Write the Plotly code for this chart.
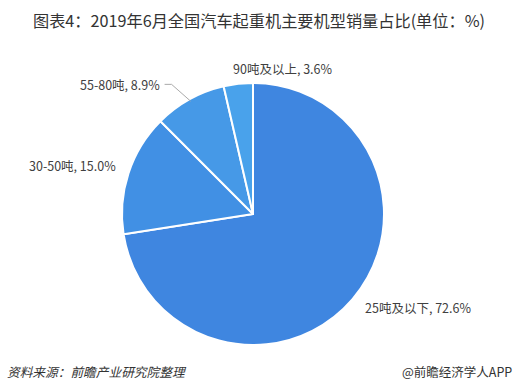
import math
import plotly.graph_objects as go

labels = ["25吨及以下", "30-50吨", "55-80吨", "90吨及以上"]
values = [72.6, 15.0, 8.9, 3.6]
colors = ["#3f86e0", "#4190e4", "#4699e7", "#49a2eb"]

W, H = 517, 392
cx, cy, R = 253, 214, 131
FONT = "Noto Sans CJK SC, Microsoft YaHei, sans-serif"

fig = go.Figure(go.Pie(
    labels=labels, values=values, sort=False, direction="clockwise", rotation=0,
    marker=dict(colors=colors, line=dict(color="white", width=2)),
    textinfo="none", hoverinfo="label+value", showlegend=False,
    domain=dict(x=[(cx - R) / W, (cx + R) / W], y=[(H - cy - R) / H, (H - cy + R) / H]),
))

# label placement offsets (px) relative to slice edge midpoint, and anchors
offsets = [(10, 8, "left"), (-10, -8, "right"), (-28, -15, "right"), (45, -15, "center")]
total = sum(values)
cum = 0
for lab, v, (dx, dy, anc) in zip(labels, values, offsets):
    mid = (cum + v / 2) / total * 2 * math.pi
    cum += v
    ex = cx + R * math.sin(mid)
    ey = cy - R * math.cos(mid)
    px, py = ex + dx, ey + dy
    fig.add_annotation(x=px / W, y=1 - py / H, xref="paper", yref="paper",
                       text=f"{lab}, {v:.1f}%", showarrow=False, xanchor=anc, yanchor="middle",
                       font=dict(size=12.5, color="#404040", family=FONT))
    if lab == "55-80吨":
        ex2 = cx + (R - 2) * math.sin(mid)
        ey2 = cy - (R - 2) * math.cos(mid)
        fig.add_shape(type="path", xref="paper", yref="paper",
                      path=f"M {(px+3)/W} {1-py/H} L {(px+10)/W} {1-py/H} L {ex2/W} {1-ey2/H}",
                      line=dict(color="#aaaaaa", width=1))

fig.add_annotation(x=31 / W, y=1 - 20 / H, xref="paper", yref="paper", xanchor="left", yanchor="middle",
                   text="图表4：2019年6月全国汽车起重机主要机型销量占比(单位：%)", showarrow=False,
                   font=dict(size=16.2, color="#333333", family=FONT))
fig.add_annotation(x=5 / W, y=1 - 371 / H, xref="paper", yref="paper", xanchor="left", yanchor="middle",
                   text="<i>资料来源：前瞻产业研究院整理</i>", showarrow=False,
                   font=dict(size=12.7, color="#333333", family=FONT))
fig.add_annotation(x=514 / W, y=1 - 371 / H, xref="paper", yref="paper", xanchor="right", yanchor="middle",
                   text="@前瞻经济学人APP", showarrow=False,
                   font=dict(size=12.5, color="#333333", family=FONT))

fig.update_layout(width=W, height=H, margin=dict(l=0, r=0, t=0, b=0),
                  paper_bgcolor="white", plot_bgcolor="white")
fig.write_html("out.html", config={"displayModeBar": False},
               post_script="document.body.style.margin='0';")
